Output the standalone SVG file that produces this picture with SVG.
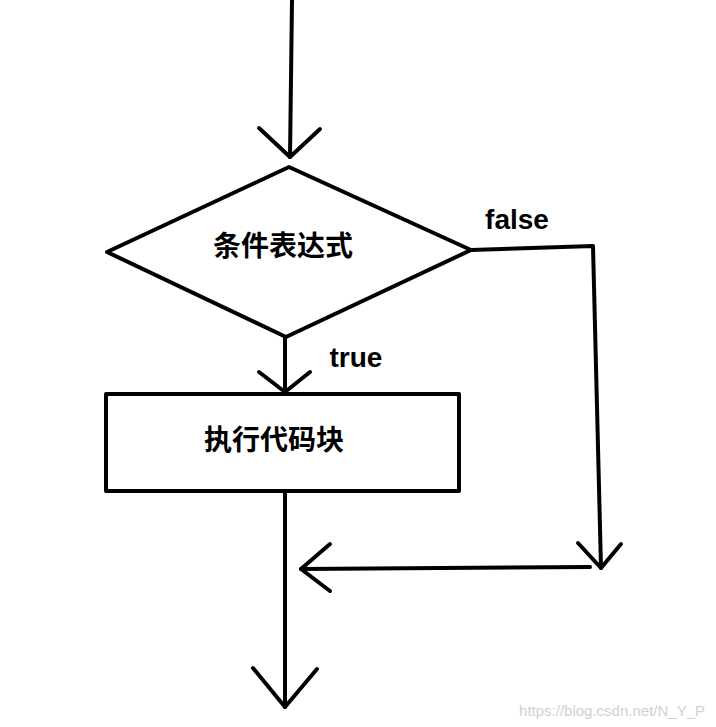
<svg xmlns="http://www.w3.org/2000/svg" width="716" height="727" viewBox="0 0 716 727">
<style>
.l{stroke:#000;stroke-width:4;fill:none;stroke-linecap:round;stroke-linejoin:round}
.t{font-family:"Liberation Sans","Noto Sans CJK SC",sans-serif;font-weight:bold;font-size:28px;fill:#000}
</style>
<rect width="716" height="727" fill="#fff"/>
<g id="connectors">
<polyline class="l" points="292,0 290,157"/>
<polyline class="l" points="259,128 290,157 320,129"/>
<polyline class="l" points="471,250 593,246 601,568"/>
<polyline class="l" points="578,543 601,568 621,544"/>
<polyline class="l" points="590,567 301,569"/>
<polyline class="l" points="330,544 301,569 330,591"/>
<polyline class="l" points="285,337 285,392"/>
<polyline class="l" points="259,372 285,392 310,372"/>
<polyline class="l" points="285,491 285,707"/>
<polyline class="l" points="253,668 285,707 317,669"/>
</g>
<g id="cond">
<polygon class="l" points="107,252 289,167 471,250 286,337"/>
<text class="t" x="283" y="256" text-anchor="middle">条件表达式</text>
</g>
<g id="block">
<rect class="l" x="106" y="394" width="353" height="97"/>
<text class="t" x="274" y="450" text-anchor="middle">执行代码块</text>
</g>
<g id="labels">
<text class="t" x="517" y="229" text-anchor="middle">false</text>
<text class="t" x="356" y="367" text-anchor="middle">true</text>
<text x="705" y="716" text-anchor="end" font-family="Liberation Sans,sans-serif" font-size="15" fill="#d0d0d0">https://blog.csdn.net/N_Y_P</text>
</g>
</svg>
